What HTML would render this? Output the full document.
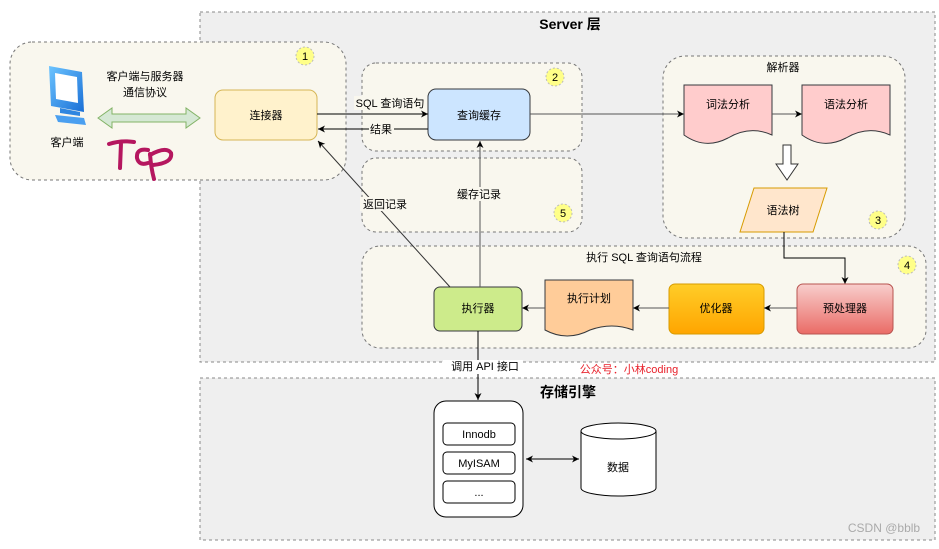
<!DOCTYPE html>
<html><head><meta charset="utf-8"><style>
html,body{margin:0;padding:0;background:#fff;}
svg text{font-family:"Liberation Sans","Noto Sans CJK SC",sans-serif;}
</style></head><body>
<svg width="939" height="544" viewBox="0 0 939 544" xmlns="http://www.w3.org/2000/svg">
<defs>
<marker id="a" markerWidth="8" markerHeight="8" refX="7" refY="4" orient="auto" markerUnits="userSpaceOnUse"><path d="M0,0.5 L7,4 L0,7.5 L2,4 Z" fill="#000"/></marker>
<marker id="as" markerWidth="8" markerHeight="8" refX="1" refY="4" orient="auto" markerUnits="userSpaceOnUse"><path d="M8,0.5 L1,4 L8,7.5 L6,4 Z" fill="#000"/></marker>
<linearGradient id="go" x1="0" y1="0" x2="0" y2="1"><stop offset="0" stop-color="#ffcd28"/><stop offset="1" stop-color="#ffa500"/></linearGradient>
<linearGradient id="gr" x1="0" y1="0" x2="0" y2="1"><stop offset="0" stop-color="#f8cecc"/><stop offset="1" stop-color="#ea6b66"/></linearGradient>
<linearGradient id="gb" x1="0" y1="0" x2="1" y2="1"><stop offset="0" stop-color="#6cc4ff"/><stop offset="1" stop-color="#1a6fd6"/></linearGradient>
</defs>
<rect x="200" y="12" width="735" height="350" fill="#efefef" stroke="#888" stroke-dasharray="3,3"/>
<text x="570" y="29" font-size="14" font-weight="bold" text-anchor="middle">Server 层</text>
<rect x="200" y="378" width="735" height="162" fill="#efefef" stroke="#888" stroke-dasharray="3,3"/>
<text x="568" y="397" font-size="14" font-weight="bold" text-anchor="middle">存储引擎</text>

<rect x="10" y="42" width="336" height="138" rx="22" fill="#f9f7ee" stroke="#777" stroke-dasharray="3,3"/>
<circle cx="305" cy="56" r="9" fill="#ffff88" stroke="#bbb" stroke-dasharray="2,2"/>
<text x="305" y="60" font-size="11" text-anchor="middle">1</text>
<path d="M49,66 L82,72 L84,112 L51,106 Z" fill="url(#gb)"/>
<path d="M55,73 L77,77 L78,103 L56,99 Z" fill="#fff"/>
<path d="M60,108 L80,112 L80,116 L60,113 Z" fill="#2f86e0"/>
<path d="M55,115 L84,118 L86,125 L58,122 Z" fill="#4a9ff0"/>
<text x="67" y="146" font-size="11" text-anchor="middle">客户端</text>
<text x="145" y="80" font-size="11" text-anchor="middle">客户端与服务器</text>
<text x="145" y="96" font-size="11" text-anchor="middle">通信协议</text>
<path d="M98,118 L112,108 L112,114 L186,114 L186,108 L200,118 L186,128 L186,122 L112,122 L112,128 Z" fill="#d5e8d4" stroke="#82b366"/>
<path d="M109,144 Q121,140 134,142 M121,143 L120,168 M148,150 Q136,148 137,158 Q139,166 148,163 M150,154 Q151,168 154,179 M150,155 Q166,146 171,153 Q173,163 153,165" fill="none" stroke="#b5175f" stroke-width="4" stroke-linecap="round"/>
<rect x="215" y="90" width="102" height="50" rx="8" fill="#fff2cc" stroke="#d6b656"/>
<text x="266" y="119" font-size="11" text-anchor="middle">连接器</text>

<rect x="362" y="63" width="220" height="88" rx="14" fill="#f9f7ee" stroke="#777" stroke-dasharray="3,3"/>
<circle cx="555" cy="77" r="9" fill="#ffff88" stroke="#bbb" stroke-dasharray="2,2"/>
<text x="555" y="81" font-size="11" text-anchor="middle">2</text>
<rect x="428" y="89" width="102" height="51" rx="8" fill="#cce5ff" stroke="#36393d"/>
<text x="479" y="119" font-size="11" text-anchor="middle">查询缓存</text>
<line x1="317" y1="114" x2="428" y2="114" stroke="#000" marker-end="url(#a)"/>
<rect x="354" y="96" width="72" height="14" fill="#f9f7ee"/>
<text x="390" y="107" font-size="11" text-anchor="middle">SQL 查询语句</text>
<line x1="428" y1="129" x2="318" y2="129" stroke="#000" marker-end="url(#a)"/>
<rect x="369" y="122" width="25" height="14" fill="#f9f7ee"/>
<text x="381" y="133" font-size="11" text-anchor="middle">结果</text>

<rect x="362" y="158" width="220" height="74" rx="14" fill="#f9f7ee" stroke="#777" stroke-dasharray="3,3"/>
<circle cx="563" cy="213" r="9" fill="#ffff88" stroke="#bbb" stroke-dasharray="2,2"/>
<text x="563" y="217" font-size="11" text-anchor="middle">5</text>

<rect x="663" y="56" width="242" height="182" rx="22" fill="#f9f7ee" stroke="#777" stroke-dasharray="3,3"/>
<text x="783" y="71" font-size="11" text-anchor="middle">解析器</text>
<path d="M684,85 L772,85 L772,135 Q750,125 728,138 Q705,150 684,135 Z" fill="#ffcccc" stroke="#36393d"/>
<text x="728" y="108" font-size="11" text-anchor="middle">词法分析</text>
<path d="M802,85 L890,85 L890,135 Q868,125 846,138 Q823,150 802,135 Z" fill="#ffcccc" stroke="#36393d"/>
<text x="846" y="108" font-size="11" text-anchor="middle">语法分析</text>
<line x1="530" y1="114" x2="684" y2="114" stroke="#555" marker-end="url(#a)"/>
<line x1="772" y1="114" x2="802" y2="114" stroke="#555" marker-end="url(#a)"/>
<path d="M783,145 L791,145 L791,164 L798,164 L787,180 L776,164 L783,164 Z" fill="#fff" stroke="#333"/>
<path d="M754,188 L827,188 L813,232 L740,232 Z" fill="#ffe6cc" stroke="#d79b00"/>
<text x="783" y="214" font-size="11" text-anchor="middle">语法树</text>
<circle cx="878" cy="220" r="9" fill="#ffff88" stroke="#bbb" stroke-dasharray="2,2"/>
<text x="878" y="224" font-size="11" text-anchor="middle">3</text>

<rect x="362" y="246" width="564" height="102" rx="18" fill="#f9f7ee" stroke="#777" stroke-dasharray="3,3"/>
<text x="644" y="261" font-size="11" text-anchor="middle">执行 SQL 查询语句流程</text>
<circle cx="907" cy="265" r="9" fill="#ffff88" stroke="#bbb" stroke-dasharray="2,2"/>
<text x="907" y="269" font-size="11" text-anchor="middle">4</text>
<polyline points="784,232 784,258 845,258 845,284" fill="none" stroke="#000" marker-end="url(#a)"/>
<rect x="434" y="287" width="88" height="44" rx="6" fill="#cdeb8b" stroke="#36393d"/>
<text x="478" y="312" font-size="11" text-anchor="middle">执行器</text>
<path d="M545,280 L633,280 L633,330 Q612,322 590,330 Q567,342 545,330 Z" fill="#ffcc99" stroke="#36393d"/>
<text x="589" y="302" font-size="11" text-anchor="middle">执行计划</text>
<rect x="669" y="284" width="95" height="50" rx="6" fill="url(#go)" stroke="#d79b00"/>
<text x="716" y="312" font-size="11" text-anchor="middle">优化器</text>
<rect x="797" y="284" width="96" height="50" rx="6" fill="url(#gr)" stroke="#b85450"/>
<text x="845" y="312" font-size="11" text-anchor="middle">预处理器</text>
<line x1="797" y1="308" x2="764" y2="308" stroke="#555" marker-end="url(#a)"/>
<line x1="669" y1="308" x2="633" y2="308" stroke="#555" marker-end="url(#a)"/>
<line x1="545" y1="308" x2="522" y2="308" stroke="#555" marker-end="url(#a)"/>

<line x1="480" y1="287" x2="480" y2="141" stroke="#555" marker-end="url(#a)"/>
<rect x="452" y="187" width="55" height="14" fill="#f9f7ee"/>
<text x="479" y="198" font-size="11" text-anchor="middle">缓存记录</text>
<line x1="450" y1="287" x2="318" y2="141" stroke="#333" marker-end="url(#a)"/>
<rect x="360" y="197" width="50" height="14" fill="#f9f7ee"/>
<text x="385" y="208" font-size="11" text-anchor="middle">返回记录</text>

<rect x="200" y="363" width="735" height="14" fill="#fff"/>
<line x1="478" y1="331" x2="478" y2="400" stroke="#000" marker-end="url(#a)"/>
<rect x="443" y="360" width="80" height="14" fill="#fff"/>
<text x="485" y="370" font-size="11" text-anchor="middle">调用 API 接口</text>
<text x="629" y="373" font-size="11" fill="#e8202a" text-anchor="middle">公众号：小林coding</text>

<rect x="434" y="401" width="89" height="116" rx="12" fill="#fff" stroke="#000"/>
<rect x="443" y="423" width="72" height="22" rx="4" fill="#fff" stroke="#000"/>
<text x="479" y="438" font-size="11" text-anchor="middle">Innodb</text>
<rect x="443" y="452" width="72" height="22" rx="4" fill="#fff" stroke="#000"/>
<text x="479" y="467" font-size="11" text-anchor="middle">MyISAM</text>
<rect x="443" y="481" width="72" height="22" rx="4" fill="#fff" stroke="#000"/>
<text x="479" y="496" font-size="11" text-anchor="middle">...</text>
<line x1="526" y1="459" x2="579" y2="459" stroke="#000" marker-start="url(#as)" marker-end="url(#a)"/>
<path d="M581,431 L581,488 A37.5,8 0 0 0 656,488 L656,431" fill="#fff" stroke="#000"/>
<ellipse cx="618.5" cy="431" rx="37.5" ry="8" fill="#fff" stroke="#000"/>
<text x="618" y="471" font-size="11" text-anchor="middle">数据</text>
<text x="884" y="532" font-size="12" fill="#aaa" text-anchor="middle">CSDN @bblb</text>
</svg>
</body></html>
